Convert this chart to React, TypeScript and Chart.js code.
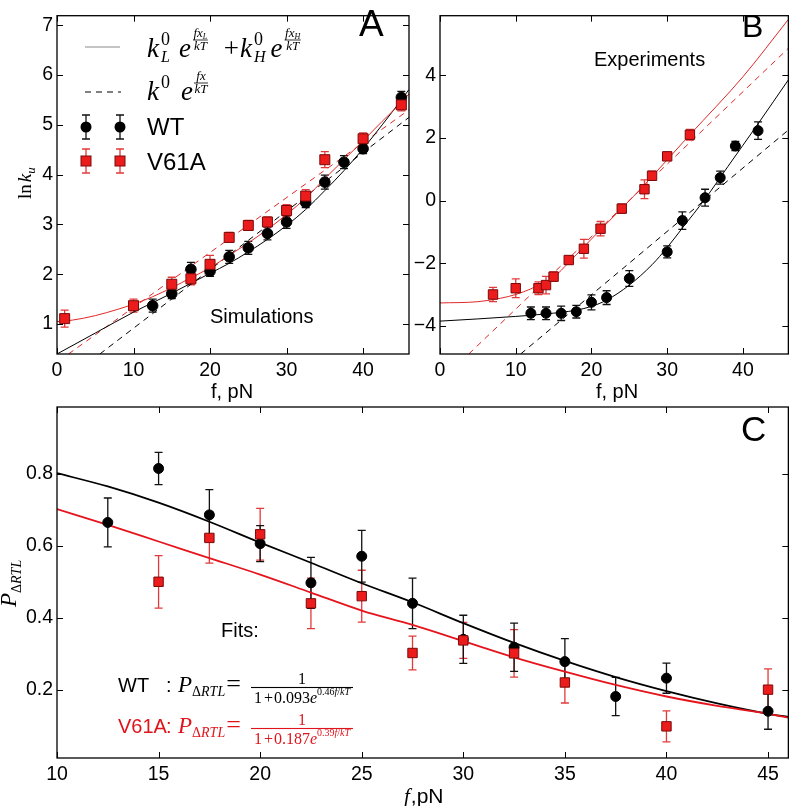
import React, { useEffect, useRef } from 'react';
import { Chart, registerables } from 'chart.js';
Chart.register(...registerables);

const SANS = '"Liberation Sans", Arial, sans-serif';
const SERIF = '"Liberation Serif", "Times New Roman", serif';
const RED = '#ec1c1c';
const RED_EDGE = '#7a0a0a';
const RED_BAR = '#e23a3a';
const RED_LINE = '#e02828';

// ---------- Panel A: simulations (ln k_u vs f) ----------
const aXTicks = [0, 10, 20, 30, 40];
const aYTicks = [1, 2, 3, 4, 5, 6, 7];
const aWtF = [12.5, 15, 17.5, 20, 22.5, 25, 27.5, 30, 32.5, 35, 37.5, 40, 45];
const aWtLnK = [1.37, 1.61, 2.1, 2.06, 2.35, 2.53, 2.82, 3.05, 3.44, 3.85, 4.25, 4.52, 5.55];
const aWtErr = [0.13, 0.1, 0.14, 0.1, 0.13, 0.13, 0.13, 0.13, 0.1, 0.14, 0.13, 0.1, 0.12];
const aMutF = [1, 10, 15, 17.5, 20, 22.5, 25, 27.5, 30, 32.5, 35, 40, 45];
const aMutLnK = [1.11, 1.37, 1.8, 1.91, 2.2, 2.74, 2.98, 3.05, 3.28, 3.57, 4.3, 4.72, 5.4];
const aMutErr = [0.17, 0.13, 0.14, 0.12, 0.18, 0.1, 0.1, 0.1, 0.12, 0.13, 0.16, 0.12, 0.12];
const aWtFitF = [0, 5, 10, 12.5, 15, 17.5, 20, 22.5, 25, 27.5, 30, 32.5, 35, 37.5, 40, 42.5, 45, 46];
const aWtFitY = [0.4, 0.82, 1.24, 1.43, 1.62, 1.82, 2.02, 2.22, 2.45, 2.7, 2.98, 3.3, 3.68, 4.08, 4.52, 5.0, 5.5, 5.71];
const aMutFitF = [0, 2, 5, 8, 10, 12.5, 15, 17.5, 20, 22.5, 25, 27.5, 30, 32.5, 35, 37.5, 40, 42.5, 45, 46];
const aMutFitY = [1.05, 1.08, 1.17, 1.3, 1.4, 1.55, 1.73, 1.93, 2.13, 2.38, 2.63, 2.9, 3.2, 3.53, 3.92, 4.3, 4.68, 5.07, 5.45, 5.62];
const aWtSingleF = [5.6, 46];
const aWtSingleY = [0.4, 5.15];
const aMutSingleF = [1.5, 46];
const aMutSingleY = [0.4, 5.3];

// ---------- Panel B: experiments ----------
const bXTicks = [0, 10, 20, 30, 40];
const bYTicks = [-4, -2, 0, 2, 4];
const bMutF = [7, 10, 13, 14, 15, 17, 19, 21.2, 24, 27, 28, 30, 33];
const bMutY = [-3.0, -2.8, -2.8, -2.7, -2.43, -1.9, -1.54, -0.9, -0.26, 0.36, 0.79, 1.41, 2.1];
const bMutErr = [0.23, 0.3, 0.2, 0.28, 0.15, 0.13, 0.3, 0.23, 0.15, 0.3, 0.15, 0.13, 0.17];
const bWtF = [12, 14, 16, 18, 20, 22, 25, 30, 32, 35, 37, 39, 42];
const bWtY = [-3.6, -3.6, -3.6, -3.55, -3.25, -3.1, -2.49, -1.64, -0.64, 0.09, 0.73, 1.74, 2.23];
const bWtErr = [0.2, 0.2, 0.23, 0.2, 0.24, 0.22, 0.25, 0.19, 0.28, 0.27, 0.21, 0.15, 0.28];
const bMutFitF = [0, 5, 8, 10, 12, 13, 15, 17, 19, 21, 24, 27, 30, 33, 40, 46];
const bMutFitY = [-3.27, -3.23, -3.12, -3.0, -2.82, -2.7, -2.45, -1.98, -1.48, -0.98, -0.25, 0.5, 1.3, 2.1, 3.95, 5.78];
const bWtFitF = [0, 5, 10, 14, 18, 20, 22, 25, 28, 30, 32, 35, 38, 42, 46];
const bWtFitY = [-3.85, -3.78, -3.7, -3.62, -3.5, -3.38, -3.18, -2.7, -2.05, -1.5, -0.88, 0.05, 1.08, 2.45, 3.85];
const bMutSingleF = [3.8, 46];
const bMutSingleY = [-4.9, 4.86];
const bWtSingleF = [10.65, 46];
const bWtSingleY = [-4.9, 2.25];

// ---------- Panel C: P_ΔRTL vs f ----------
const cXTicks = [10, 15, 20, 25, 30, 35, 40, 45];
const cYTicks = [0.2, 0.4, 0.6, 0.8];
const cWtF = [12.5, 15, 17.5, 20, 22.5, 25, 27.5, 30, 32.5, 35, 37.5, 40, 45];
const cWtP = [0.665, 0.815, 0.686, 0.606, 0.497, 0.571, 0.44, 0.34, 0.318, 0.278, 0.181, 0.232, 0.14];
const cWtErr = [0.068, 0.045, 0.07, 0.05, 0.071, 0.072, 0.07, 0.067, 0.067, 0.064, 0.053, 0.042, 0.05];
const cMutF = [15, 17.5, 20, 22.5, 25, 27.5, 30, 32.5, 35, 40, 45];
const cMutP = [0.5, 0.622, 0.632, 0.44, 0.46, 0.302, 0.337, 0.301, 0.22, 0.098, 0.2];
const cMutErr = [0.073, 0.07, 0.072, 0.07, 0.072, 0.047, 0.05, 0.066, 0.057, 0.043, 0.058];
const cWtFitF = [10, 12.5, 15, 17.5, 20, 22.5, 25, 27.5, 30, 32.5, 35, 37.5, 40, 42.5, 45, 46];
const cWtFitP = [0.802, 0.765, 0.72, 0.667, 0.609, 0.553, 0.496, 0.443, 0.385, 0.33, 0.28, 0.235, 0.196, 0.162, 0.133, 0.124];
const cMutFitF = [10, 12.5, 15, 17.5, 20, 22.5, 25, 27.5, 30, 32.5, 35, 37.5, 40, 42.5, 45, 46];
const cMutFitP = [0.702, 0.658, 0.612, 0.566, 0.52, 0.47, 0.42, 0.38, 0.335, 0.29, 0.25, 0.213, 0.181, 0.155, 0.133, 0.122];

// ---------- helpers ----------
type Tok = { t: string; s: number; i?: boolean; sans?: boolean; dy?: number; g?: number };
const fnt = (k: Tok) => `${k.i ? 'italic ' : ''}${k.s}px ${k.sans ? SANS : SERIF}`;
function seqW(ctx: CanvasRenderingContext2D, toks: Tok[]) {
  let w = 0;
  for (const k of toks) { ctx.font = fnt(k); w += (k.g || 0) + ctx.measureText(k.t).width; }
  return w;
}
function seq(ctx: CanvasRenderingContext2D, x: number, y: number, toks: Tok[]) {
  let cx = x;
  for (const k of toks) {
    cx += k.g || 0;
    ctx.font = fnt(k);
    ctx.fillText(k.t, cx, y + (k.dy || 0));
    cx += ctx.measureText(k.t).width;
  }
  return cx;
}
function stack(ctx: CanvasRenderingContext2D, x: number, y: number, sup: Tok[], sub: Tok[]) {
  const w = Math.max(seqW(ctx, sup), seqW(ctx, sub));
  seq(ctx, x, y, sup); seq(ctx, x, y, sub);
  return x + w;
}
function frac(ctx: CanvasRenderingContext2D, x: number, barY: number, num: Tok[], den: Tok[], numDy: number, denDy: number, pad: number, lw: number, minW = 0) {
  const wn = seqW(ctx, num), wd = seqW(ctx, den);
  const w = Math.max(Math.max(wn, wd) + 2 * pad, minW);
  ctx.fillRect(x, barY - lw / 2, w, lw);
  seq(ctx, x + (w - wn) / 2, barY + numDy, num);
  seq(ctx, x + (w - wd) / 2, barY + denDy, den);
  return x + w;
}

function drawFrame(chart: any, xTicks: number[], yTicks: number[]) {
  const { ctx, chartArea: a } = chart;
  const xs = chart.scales.x, ys = chart.scales.y;
  ctx.save();
  ctx.strokeStyle = '#000';
  ctx.lineWidth = 1.3;
  ctx.strokeRect(a.left, a.top, a.right - a.left, a.bottom - a.top);
  ctx.lineWidth = 1;
  ctx.beginPath();
  const L = 6;
  for (const v of xTicks) {
    const p = Math.round(xs.getPixelForValue(v)) + 0.5;
    ctx.moveTo(p, a.bottom); ctx.lineTo(p, a.bottom - L);
    ctx.moveTo(p, a.top); ctx.lineTo(p, a.top + L);
  }
  for (const v of yTicks) {
    const p = Math.round(ys.getPixelForValue(v)) + 0.5;
    ctx.moveTo(a.left, p); ctx.lineTo(a.left + L, p);
    ctx.moveTo(a.right, p); ctx.lineTo(a.right - L, p);
  }
  ctx.stroke();
  ctx.restore();
}

const errPlugin = {
  id: 'errbars',
  beforeDatasetsDraw(chart: any) {
    const { ctx } = chart;
    const xs = chart.scales.x, ys = chart.scales.y;
    ctx.save();
    chart.data.datasets.forEach((ds: any) => {
      if (!ds.yErr) return;
      ctx.strokeStyle = ds.errColor;
      ctx.lineWidth = 1.3;
      ds.data.forEach((p: any, i: number) => {
        const px = xs.getPixelForValue(p.x);
        const y1 = ys.getPixelForValue(p.y - ds.yErr[i]);
        const y2 = ys.getPixelForValue(p.y + ds.yErr[i]);
        ctx.beginPath();
        ctx.moveTo(px, y1); ctx.lineTo(px, y2);
        ctx.moveTo(px - 4, y1); ctx.lineTo(px + 4, y1);
        ctx.moveTo(px - 4, y2); ctx.lineTo(px + 4, y2);
        ctx.stroke();
      });
    });
    ctx.restore();
  },
};

const toXY = (xs: number[], ys: number[]) => xs.map((x, i) => ({ x, y: ys[i] }));

function fitLine(xs: number[], ys: number[], color: string, width: number, dash: number[] = []) {
  return {
    data: toXY(xs, ys), borderColor: color, borderWidth: width, borderDash: dash,
    pointRadius: 0, fill: false, cubicInterpolationMode: 'monotone', order: 10,
  };
}
function markers(xs: number[], ys: number[], err: number[], red: boolean, r: number, order: number) {
  return {
    data: toXY(xs, ys), showLine: false, yErr: err, errColor: red ? RED_BAR : '#111',
    pointStyle: red ? 'rect' : 'circle', pointRadius: red ? r * 1.414 : r,
    pointBackgroundColor: red ? RED : '#000', pointBorderColor: red ? RED_EDGE : '#000',
    pointBorderWidth: 1, order,
  };
}
const fmt = (v: number) => (v < 0 ? '\u2212' + Math.abs(v) : String(v));
function axis(min: number, max: number, ticks: number[], fit: (s: any) => void, pad: number) {
  return {
    type: 'linear', min, max,
    afterBuildTicks: (s: any) => { s.ticks = ticks.map((v) => ({ value: v })); },
    afterFit: fit,
    grid: { display: false, drawTicks: false },
    border: { display: false },
    ticks: { padding: pad, color: '#000', font: { size: 19.5, family: SANS }, maxRotation: 0, autoSkip: false, callback: (v: any) => fmt(Number(v)) },
  };
}
function cfg(datasets: any[], scales: any, padding: any, draw: (c: any) => void) {
  return {
    type: 'line',
    data: { datasets },
    options: {
      responsive: false, animation: false, events: [],
      layout: { padding },
      plugins: { legend: { display: false }, tooltip: { enabled: false } },
      scales,
    },
    plugins: [errPlugin, { id: 'decor', afterDraw: draw }],
  } as any;
}

function legendMarker(ctx: CanvasRenderingContext2D, x: number, y: number, red: boolean) {
  ctx.strokeStyle = red ? RED_BAR : '#111';
  ctx.lineWidth = 1.3;
  ctx.beginPath();
  ctx.moveTo(x, y - 12); ctx.lineTo(x, y + 12);
  ctx.moveTo(x - 4, y - 12); ctx.lineTo(x + 4, y - 12);
  ctx.moveTo(x - 4, y + 12); ctx.lineTo(x + 4, y + 12);
  ctx.stroke();
  if (red) {
    ctx.fillStyle = RED; ctx.fillRect(x - 5, y - 5, 10, 10);
    ctx.strokeStyle = RED_EDGE; ctx.lineWidth = 1; ctx.strokeRect(x - 5, y - 5, 10, 10);
  } else {
    ctx.fillStyle = '#000'; ctx.beginPath(); ctx.arc(x, y, 5.5, 0, Math.PI * 2); ctx.fill();
  }
}

function drawA(chart: any) {
  drawFrame(chart, aXTicks, aYTicks);
  const ctx: CanvasRenderingContext2D = chart.ctx;
  ctx.save();
  ctx.textBaseline = 'alphabetic'; ctx.textAlign = 'left'; ctx.fillStyle = '#000';
  // panel letter
  ctx.font = `37px ${SANS}`; ctx.fillText('A', 359, 36);
  ctx.font = `20px ${SANS}`; ctx.fillText('Simulations', 210, 323);
  ctx.textAlign = 'center'; ctx.fillText('f, pN', 232, 398); ctx.textAlign = 'left';
  // y title
  ctx.save(); ctx.translate(31, 199); ctx.rotate(-Math.PI / 2);
  seq(ctx, 0, 0, [{ t: 'ln', s: 19 }, { t: 'k', s: 19, i: true, g: 2 }, { t: 'u', s: 13, i: true, dy: 4 }]);
  ctx.restore();
  // legend lines
  ctx.strokeStyle = '#8a8a8a'; ctx.lineWidth = 1.2;
  ctx.beginPath(); ctx.moveTo(85, 47); ctx.lineTo(120, 47); ctx.stroke();
  ctx.strokeStyle = '#000'; ctx.lineWidth = 1; ctx.setLineDash([6, 5]);
  ctx.beginPath(); ctx.moveTo(85, 92); ctx.lineTo(121, 92); ctx.stroke();
  ctx.setLineDash([]);
  legendMarker(ctx, 86, 127, false); legendMarker(ctx, 120, 127, false);
  legendMarker(ctx, 86, 161, true); legendMarker(ctx, 120, 161, true);
  ctx.fillStyle = '#000';
  ctx.font = `24px ${SANS}`; ctx.fillText('WT', 147, 135); ctx.fillText('V61A', 147, 170);
  // formula 1
  const y1 = 57;
  let cx = seq(ctx, 147, y1, [{ t: 'k', s: 27, i: true }]);
  cx = stack(ctx, cx + 2, y1, [{ t: '0', s: 18, dy: -12 }], [{ t: 'L', s: 16, i: true, dy: 5 }]);
  cx = seq(ctx, cx + 9, y1, [{ t: 'e', s: 27, i: true }]);
  cx = frac(ctx, cx + 2, 40, [{ t: 'fx', s: 13, i: true }, { t: 'L', s: 8, i: true, dy: 2 }], [{ t: 'kT', s: 13, i: true }], -3, 10, 0.5, 0.8);
  cx = seq(ctx, cx + 16, y1, [{ t: '+', s: 27 }]);
  cx = seq(ctx, cx + 1, y1, [{ t: 'k', s: 27, i: true }]);
  cx = stack(ctx, cx + 2, y1, [{ t: '0', s: 18, dy: -12 }], [{ t: 'H', s: 16, i: true, dy: 5 }]);
  cx = seq(ctx, cx + 5, y1, [{ t: 'e', s: 27, i: true }]);
  frac(ctx, cx + 2, 40, [{ t: 'fx', s: 13, i: true }, { t: 'H', s: 8, i: true, dy: 2 }], [{ t: 'kT', s: 13, i: true }], -3, 10, 0.5, 0.8);
  // formula 2
  const y2 = 100;
  cx = seq(ctx, 147, y2, [{ t: 'k', s: 27, i: true }]);
  cx = seq(ctx, cx + 2, y2, [{ t: '0', s: 18, dy: -12 }]);
  cx = seq(ctx, cx + 11, y2, [{ t: 'e', s: 27, i: true }]);
  frac(ctx, cx + 1, 83, [{ t: 'fx', s: 13, i: true }], [{ t: 'kT', s: 13, i: true }], -3, 10, 0.5, 0.8);
  ctx.restore();
}

function drawB(chart: any) {
  drawFrame(chart, bXTicks, bYTicks);
  const ctx: CanvasRenderingContext2D = chart.ctx;
  ctx.save();
  ctx.fillStyle = '#000'; ctx.textAlign = 'left'; ctx.textBaseline = 'alphabetic';
  ctx.font = `32px ${SANS}`; ctx.fillText('B', 742, 37);
  ctx.font = `20px ${SANS}`; ctx.fillText('Experiments', 594, 66);
  ctx.textAlign = 'center'; ctx.fillText('f, pN', 617, 398);
  ctx.restore();
}

function drawC(chart: any) {
  drawFrame(chart, cXTicks, cYTicks);
  const ctx: CanvasRenderingContext2D = chart.ctx;
  ctx.save();
  ctx.fillStyle = '#000'; ctx.textAlign = 'left'; ctx.textBaseline = 'alphabetic';
  ctx.font = `35px ${SANS}`; ctx.fillText('C', 741, 441);
  ctx.font = `20px ${SANS}`; ctx.fillText('Fits:', 221, 637);
  // x title
  seq(ctx, 404, 803, [{ t: 'f', s: 21, i: true }, { t: ',pN', s: 21, sans: true, g: 1 }]);
  // y title
  ctx.save(); ctx.translate(16, 607); ctx.rotate(-Math.PI / 2);
  seq(ctx, 0, 0, [{ t: 'P', s: 23, i: true }, { t: 'Δ', s: 14, dy: 5 }, { t: 'RTL', s: 14, i: true, dy: 5 }]);
  ctx.restore();
  const formula = (y: number, label: string, color: string, a: string, b: string) => {
    ctx.fillStyle = color;
    seq(ctx, 118, y, [{ t: label, s: 20, sans: true }]);
    seq(ctx, 166, y, [{ t: ':', s: 20, sans: true }]);
    let cx = seq(ctx, 178, y, [{ t: 'P', s: 23, i: true }, { t: 'Δ', s: 14, dy: 4 }, { t: 'RTL', s: 14, i: true, dy: 4 }]);
    cx = seq(ctx, cx + 1, y, [{ t: '=', s: 26 }]);
    frac(ctx, Math.max(cx, 251), y - 4.5,
      [{ t: '1', s: 16 }],
      [{ t: '1', s: 16 }, { t: '+', s: 16, g: 2 }, { t: a, s: 16, g: 1 }, { t: 'e', s: 16, i: true },
       { t: b, s: 10, dy: -8 }, { t: 'f', s: 10, i: true, dy: -8 }, { t: '/', s: 10, dy: -8 }, { t: 'kT', s: 10, i: true, dy: -8 }],
      -4, 15, 1, 1.1, 102);
  };
  formula(692, 'WT   ', '#000', '0.093', '0.46');
  formula(733, 'V61A', '#e0141c', '0.187', '0.39');
  ctx.restore();
}

export default function App() {
  const ra = useRef<HTMLCanvasElement>(null);
  const rb = useRef<HTMLCanvasElement>(null);
  const rc = useRef<HTMLCanvasElement>(null);
  useEffect(() => {
    const chA = new Chart(ra.current!, cfg(
      [
        markers(aMutF, aMutLnK, aMutErr, true, 5, 1),
        markers(aWtF, aWtLnK, aWtErr, false, 5.3, 2),
        fitLine(aMutFitF, aMutFitY, RED_LINE, 1),
        fitLine(aWtFitF, aWtFitY, '#000', 1),
        fitLine(aMutSingleF, aMutSingleY, RED_LINE, 1, [6, 5]),
        fitLine(aWtSingleF, aWtSingleY, '#000', 1, [6, 5]),
      ],
      {
        x: axis(0, 46, aXTicks, (s: any) => { s.height = 56; }, 5),
        y: axis(0.4, 7.19, aYTicks, (s: any) => { s.width = 57; }, 4),
      },
      { left: 0, top: 3, right: 387, bottom: 396 },
      drawA,
    ));
    const chB = new Chart(rb.current!, cfg(
      [
        markers(bMutF, bMutY, bMutErr, true, 4.7, 1),
        markers(bWtF, bWtY, bWtErr, false, 5, 2),
        fitLine(bMutFitF, bMutFitY, RED_LINE, 1),
        fitLine(bWtFitF, bWtFitY, '#000', 1),
        fitLine(bMutSingleF, bMutSingleY, RED_LINE, 1, [6, 5]),
        fitLine(bWtSingleF, bWtSingleY, '#000', 1, [6, 5]),
      ],
      {
        x: axis(0, 46, bXTicks, (s: any) => { s.height = 56; }, 5),
        y: axis(-4.9, 5.9, bYTicks, (s: any) => { s.width = 30; }, 4),
      },
      { left: 410, top: 3, right: 4, bottom: 396 },
      drawB,
    ));
    const chC = new Chart(rc.current!, cfg(
      [
        markers(cMutF, cMutP, cMutErr, true, 4.7, 1),
        markers(cWtF, cWtP, cWtErr, false, 5, 2),
        fitLine(cMutFitF, cMutFitP, '#e6141c', 1.8),
        fitLine(cWtFitF, cWtFitP, '#000', 1.8),
      ],
      {
        x: axis(10, 46, cXTicks, (s: any) => { s.height = 48; }, 5),
        y: axis(0.01, 0.986, cYTicks, (s: any) => { s.width = 57; }, 4),
      },
      { left: 0, top: 407, right: 4, bottom: 0 },
      drawC,
    ));
    return () => { chA.destroy(); chB.destroy(); chC.destroy(); };
  }, []);
  const st: React.CSSProperties = { position: 'absolute', left: 0, top: 0 };
  return (
    <div style={{ position: 'absolute', left: 0, top: 0, width: 796, height: 806, background: '#fff' }}>
      <canvas ref={ra} width={796} height={806} style={st} />
      <canvas ref={rb} width={796} height={806} style={st} />
      <canvas ref={rc} width={796} height={806} style={st} />
    </div>
  );
}
